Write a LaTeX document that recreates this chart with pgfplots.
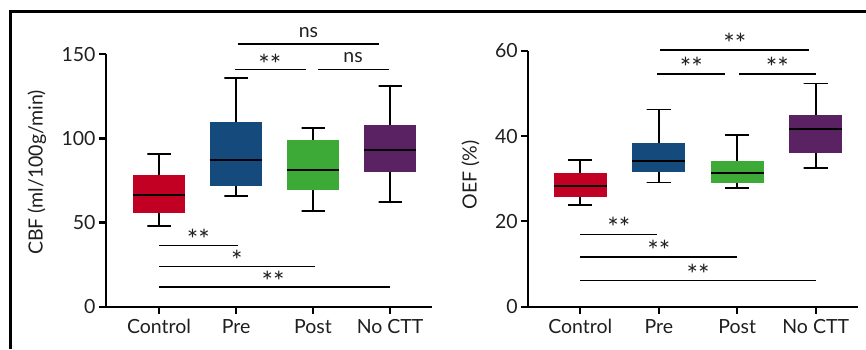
\documentclass[border=0pt]{standalone}
\usepackage{pgfplots}
\pgfplotsset{compat=1.18}
\usepackage{fontspec}
\setmainfont{Lato}
\definecolor{cred}{HTML}{C10024}
\definecolor{cblue}{HTML}{144B7C}
\definecolor{cgreen}{HTML}{3DAA38}
\definecolor{cpurple}{HTML}{5B2263}
\newcommand{\tfsize}{\fontsize{19.5}{22}\selectfont}
\newcommand{\stsize}{\fontsize{27}{30}\selectfont}
\tikzset{
  stn/.style={font=\stsize, text=black!88, yshift=-5.5pt},
  nsn/.style={font=\tfsize, text=black!88},
}
\pgfplotsset{
  panel/.style={
    scale only axis,
    anchor=south west,
    axis lines=left,
    axis line style={-, line width=2.2pt, black},
    xtick={0,1,2,3},
    xticklabels={Control,Pre,Post,No CTT},
    tick align=outside,
    major tick length=7pt,
    every tick/.style={black, line width=2.2pt},
    /pgf/number format/assume math mode=true,
    tick label style={font=\tfsize, text=black!88},
    label style={font=\tfsize, text=black!88},
    xticklabel style={yshift=-2pt},
    clip=false,
  },
  wh/.style={black, line width=1.8pt, no marks},
  bxf/.style={fill=#1, draw=none, no marks},
  md/.style={black, line width=2pt, no marks},
  sig/.style={black, line width=1.6pt, no marks},
}
\begin{document}
\begin{tikzpicture}
\useasboundingbox (0,0) rectangle (866pt,349pt);
\draw[line width=2.7pt] (10.3pt,0) -- (10.3pt,337.7pt) -- (866pt,337.7pt);
% ---------- left panel: CBF
\begin{axis}[panel, at={(106pt,42.3pt)}, width=325.7pt, height=252.4pt,
  xmin=-0.688, xmax=3.54, ymin=0, ymax=150, ytick={0,50,100,150},
  ylabel={CBF (ml/100g/min)},
  ylabel style={at={(axis description cs:-0.212,0.532)}, anchor=center}]
% Control: 48.1 55.5 66.4 78.5 90.7
\addplot[wh] coordinates {(0,78.5) (0,90.7) (-0.15,90.7) (0.15,90.7)};
\addplot[wh] coordinates {(0,55.5) (0,48.1) (-0.15,48.1) (0.15,48.1)};
\addplot[bxf=cred] coordinates {(-0.342,55.5) (0.342,55.5) (0.342,78.5) (-0.342,78.5)} -- cycle;
\addplot[md] coordinates {(-0.342,66.4) (0.342,66.4)};
% Pre: 66.0 71.9 87.2 110.0 135.7
\addplot[wh] coordinates {(1,110.0) (1,135.7) (0.85,135.7) (1.15,135.7)};
\addplot[wh] coordinates {(1,71.9) (1,66.0) (0.85,66.0) (1.15,66.0)};
\addplot[bxf=cblue] coordinates {(0.658,71.9) (1.342,71.9) (1.342,110.0) (0.658,110.0)} -- cycle;
\addplot[md] coordinates {(0.658,87.2) (1.342,87.2)};
% Post: 56.7 69.3 81.2 98.9 106.0
\addplot[wh] coordinates {(2,98.9) (2,106.0) (1.85,106.0) (2.15,106.0)};
\addplot[wh] coordinates {(2,69.3) (2,56.7) (1.85,56.7) (2.15,56.7)};
\addplot[bxf=cgreen] coordinates {(1.658,69.3) (2.342,69.3) (2.342,98.9) (1.658,98.9)} -- cycle;
\addplot[md] coordinates {(1.658,81.2) (2.342,81.2)};
% No CTT: 62.0 79.8 93.3 107.8 131.2
\addplot[wh] coordinates {(3,107.8) (3,131.2) (2.85,131.2) (3.15,131.2)};
\addplot[wh] coordinates {(3,79.8) (3,62.0) (2.85,62.0) (3.15,62.0)};
\addplot[bxf=cpurple] coordinates {(2.658,79.8) (3.342,79.8) (3.342,107.8) (2.658,107.8)} -- cycle;
\addplot[md] coordinates {(2.658,93.3) (3.342,93.3)};
% significance bars
\addplot[sig] coordinates {(1.02,156.3) (2.85,156.3)};
\addplot[sig] coordinates {(0.99,140.9) (1.905,140.9)};
\addplot[sig] coordinates {(2.07,140.9) (2.98,140.9)};
\addplot[sig] coordinates {(0,36.3) (1.02,36.3)};
\addplot[sig] coordinates {(0,23.8) (2.03,23.8)};
\addplot[sig] coordinates {(0,11.7) (3.0,11.7)};
\node[nsn] at (axis cs:1.94,163) {ns};
\node[stn] at (axis cs:1.44,147.6) {**};
\node[nsn] at (axis cs:2.52,148) {ns};
\node[stn] at (axis cs:0.51,43.6) {**};
\node[stn] at (axis cs:1.01,30.7) {*};
\node[stn] at (axis cs:1.48,18.4) {**};
\end{axis}
% ---------- right panel: OEF
\begin{axis}[panel, at={(528.3pt,42.3pt)}, width=329.7pt, height=256pt,
  xmin=-0.663, xmax=3.539, ymin=0, ymax=60, ytick={0,20,40,60},
  ylabel={OEF (\%)},
  ylabel style={at={(axis description cs:-0.175,0.514)}, anchor=center}]
% Control: 23.75 25.8 28.3 31.4 34.4
\addplot[wh] coordinates {(0,31.4) (0,34.4) (-0.155,34.4) (0.155,34.4)};
\addplot[wh] coordinates {(0,25.8) (0,23.75) (-0.155,23.75) (0.155,23.75)};
\addplot[bxf=cred] coordinates {(-0.3375,25.8) (0.3375,25.8) (0.3375,31.4) (-0.3375,31.4)} -- cycle;
\addplot[md] coordinates {(-0.3375,28.3) (0.3375,28.3)};
% Pre: 29.1 31.6 34.2 38.4 46.2
\addplot[wh] coordinates {(1,38.4) (1,46.2) (0.845,46.2) (1.155,46.2)};
\addplot[wh] coordinates {(1,31.6) (1,29.1) (0.845,29.1) (1.155,29.1)};
\addplot[bxf=cblue] coordinates {(0.6625,31.6) (1.3375,31.6) (1.3375,38.4) (0.6625,38.4)} -- cycle;
\addplot[md] coordinates {(0.6625,34.2) (1.3375,34.2)};
% Post: 27.9 29.1 31.25 34.1 40.2
\addplot[wh] coordinates {(2,34.1) (2,40.2) (1.845,40.2) (2.155,40.2)};
\addplot[wh] coordinates {(2,29.1) (2,27.9) (1.845,27.9) (2.155,27.9)};
\addplot[bxf=cgreen] coordinates {(1.6625,29.1) (2.3375,29.1) (2.3375,34.1) (1.6625,34.1)} -- cycle;
\addplot[md] coordinates {(1.6625,31.25) (2.3375,31.25)};
% No CTT: 32.5 36.1 41.6 45.0 52.3
\addplot[wh] coordinates {(3,45.0) (3,52.3) (2.845,52.3) (3.155,52.3)};
\addplot[wh] coordinates {(3,36.1) (3,32.5) (2.845,32.5) (3.155,32.5)};
\addplot[bxf=cpurple] coordinates {(2.6625,36.1) (3.3375,36.1) (3.3375,45.0) (2.6625,45.0)} -- cycle;
\addplot[md] coordinates {(2.6625,41.6) (3.3375,41.6)};
% significance bars
\addplot[sig] coordinates {(1.016,60.2) (2.92,60.2)};
\addplot[sig] coordinates {(0.98,54.5) (1.85,54.5)};
\addplot[sig] coordinates {(2.02,54.5) (3.0,54.5)};
\addplot[sig] coordinates {(0,16.95) (0.98,16.95)};
\addplot[sig] coordinates {(0,11.6) (2.0,11.6)};
\addplot[sig] coordinates {(0,6.1) (3.0,6.1)};
\node[stn] at (axis cs:1.97,63.1) {**};
\node[stn] at (axis cs:1.415,57.4) {**};
\node[stn] at (axis cs:2.51,57.4) {**};
\node[stn] at (axis cs:0.49,19.9) {**};
\node[stn] at (axis cs:1.0,14.45) {**};
\node[stn] at (axis cs:1.5,8.9) {**};
\end{axis}
\end{tikzpicture}
\end{document}
